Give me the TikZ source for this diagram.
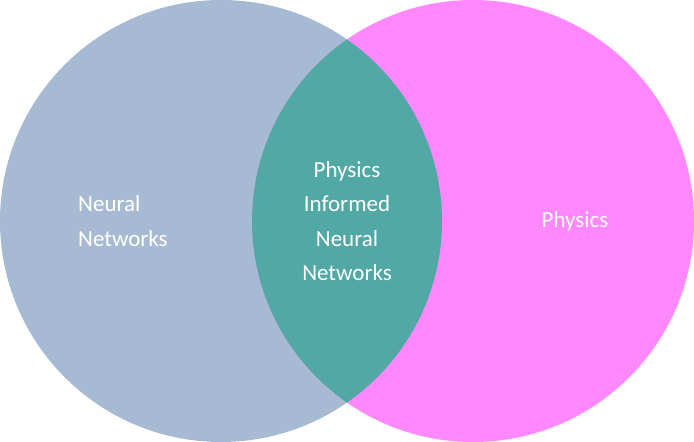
\documentclass[tikz,border=0pt]{standalone}
\usepackage{fontspec}
\setmainfont{Carlito}
\definecolor{leftc}{HTML}{A6BBD3}
\definecolor{rightc}{HTML}{FF88FF}
\definecolor{midc}{HTML}{52A8A5}
\begin{document}
\begin{tikzpicture}[x=1pt,y=1pt,
  lbl/.style={text=white,font=\fontsize{23}{34.5}\selectfont,align=center,inner sep=0pt}]
\useasboundingbox (0,0) rectangle (694,442);
\fill[leftc] (221,221) circle (221);
\fill[rightc] (473,221) circle (221);
\begin{scope}
\clip (221,221) circle (221);
\fill[midc] (473,221) circle (221);
\end{scope}
\node[lbl,align=left,anchor=west] (nn) at (78,221) {Neural\\Networks};
\node[lbl] (pinn) at (347,221) {Physics\\Informed\\Neural\\Networks};
\node[lbl] (ph) at (575,221) {Physics};
\end{tikzpicture}
\end{document}
